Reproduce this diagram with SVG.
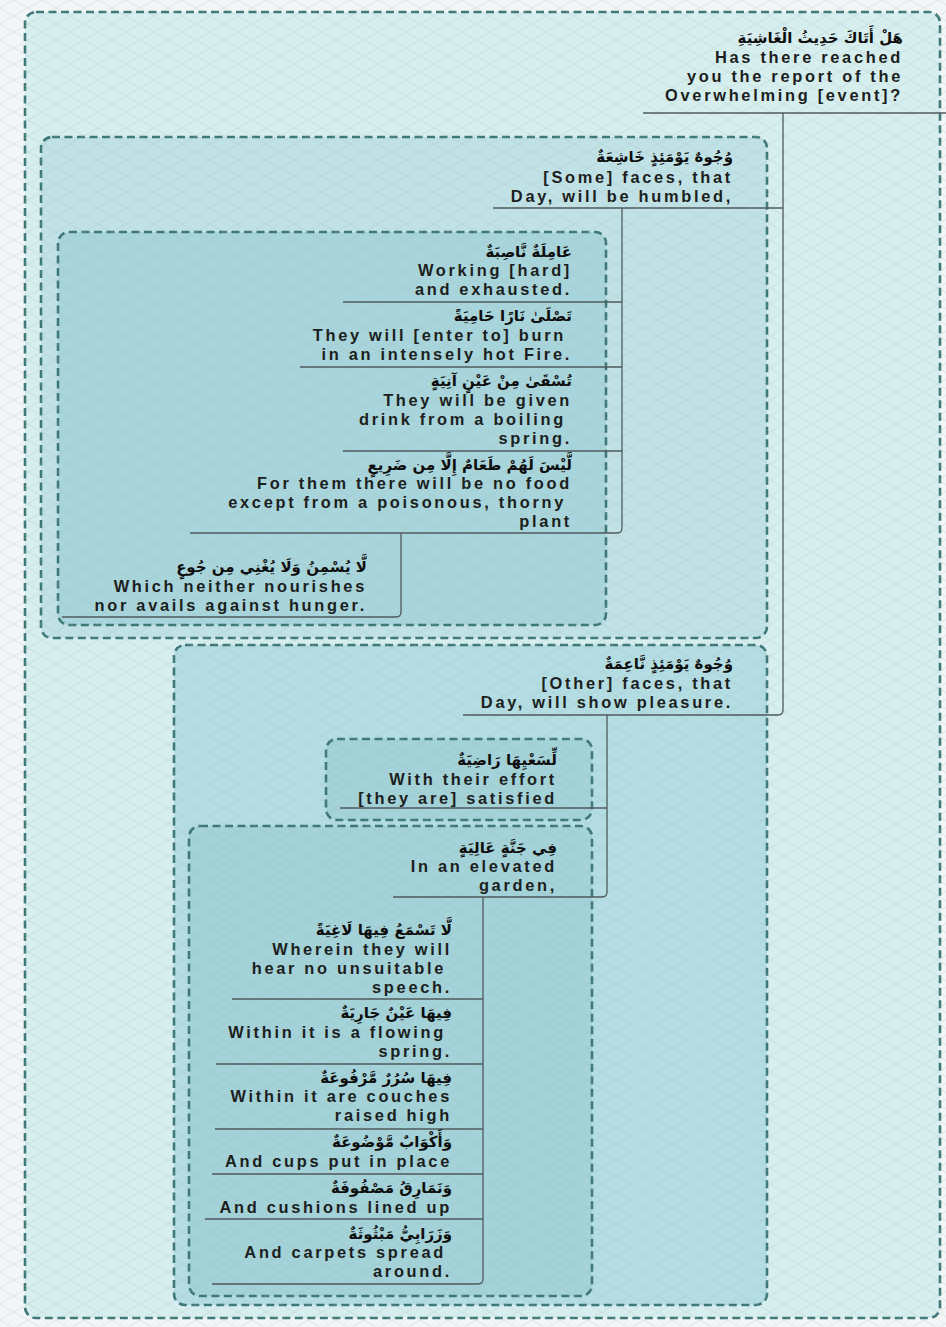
<svg xmlns="http://www.w3.org/2000/svg" width="946" height="1327" viewBox="0 0 946 1327">
<style>
.box{stroke:#3e7878;stroke-width:2.6;stroke-dasharray:8 4.5}
.t{font-family:"Liberation Sans",Arial,sans-serif;font-weight:700;font-size:16.4px;fill:#1c1f20;letter-spacing:2.7px;text-anchor:end}
.ar{font-family:"DejaVu Sans",sans-serif;font-weight:bold;font-size:15px;fill:#0e0e0e;text-anchor:end}
.c{fill:none;stroke:#4f5a5c;stroke-width:1.3}
</style>
<defs>
<pattern id="dia" width="28" height="16" patternUnits="userSpaceOnUse">
<path d="M0,8 L14,0 L28,8 L14,16 Z" fill="none" stroke="#9fb4b4" stroke-width="0.7"/>
</pattern>
</defs>
<rect width="946" height="1327" fill="#f3f6f6"/>
<g id="outer"><rect class="box" x="25" y="12" width="915" height="1306" rx="11" fill="#d7eeef"/></g>
<g id="boxA"><rect class="box" x="41" y="137" width="726" height="501" rx="11" fill="#c0e2e6"/></g>
<g id="boxB"><rect class="box" x="58" y="232" width="548" height="393" rx="11" fill="#a8d5db"/></g>
<g id="boxC"><rect class="box" x="174" y="645" width="593" height="660" rx="11" fill="#b3dde3"/></g>
<g id="boxD"><rect class="box" x="326" y="739" width="266" height="81" rx="11" fill="#a3d2d9"/></g>
<g id="boxE"><rect class="box" x="189" y="826" width="403" height="470" rx="11" fill="#a3d2d9"/></g>
<rect width="946" height="1327" fill="url(#dia)" opacity="0.35"/>

<g id="connectors">
<path class="c" d="M643,113 H946"/>
<path class="c" d="M783,113 V710 Q783,715 778,715 H463"/>
<path class="c" d="M493,208 H783"/>
<path class="c" d="M622,208 V528 Q622,533 617,533 H190"/>
<path class="c" d="M343,302 H622"/>
<path class="c" d="M300,367 H622"/>
<path class="c" d="M343,451 H622"/>
<path class="c" d="M401,533 V612 Q401,617 396,617 H62"/>
<path class="c" d="M607,715 V892 Q607,897 602,897 H393"/>
<path class="c" d="M340,808 H607"/>
<path class="c" d="M483,897 V1279 Q483,1284 478,1284 H212"/>
<path class="c" d="M232,999 H483"/>
<path class="c" d="M216,1064 H483"/>
<path class="c" d="M215,1129 H483"/>
<path class="c" d="M212,1174 H483"/>
<path class="c" d="M205,1219 H483"/>
</g>

<g id="n1">
<text class="ar" x="903" y="43">هَلْ أَتَاكَ حَدِيثُ الْغَاشِيَةِ</text>
<text class="t" x="903" y="63">Has there reached</text>
<text class="t" x="903" y="82">you the report of the</text>
<text class="t" x="903" y="101">Overwhelming [event]?</text>
</g>
<g id="n2">
<text class="ar" x="733" y="162">وُجُوهٌ يَوْمَئِذٍ خَاشِعَةٌ</text>
<text class="t" x="733" y="183">[Some] faces, that</text>
<text class="t" x="733" y="202">Day, will be humbled,</text>
</g>
<g id="n3">
<text class="ar" x="572" y="257">عَامِلَةٌ نَّاصِبَةٌ</text>
<text class="t" x="572" y="276">Working [hard]</text>
<text class="t" x="572" y="295">and exhausted.</text>
</g>
<g id="n4">
<text class="ar" x="572" y="321">تَصْلَىٰ نَارًا حَامِيَةً</text>
<text class="t" x="566" y="341">They will [enter to] burn</text>
<text class="t" x="572" y="360">in an intensely hot Fire.</text>
</g>
<g id="n5">
<text class="ar" x="572" y="386">تُسْقَىٰ مِنْ عَيْنٍ آنِيَةٍ</text>
<text class="t" x="572" y="406">They will be given</text>
<text class="t" x="566" y="425">drink from a boiling</text>
<text class="t" x="572" y="444">spring.</text>
</g>
<g id="n6">
<text class="ar" x="572" y="470">لَّيْسَ لَهُمْ طَعَامٌ إِلَّا مِن ضَرِيعٍ</text>
<text class="t" x="572" y="489">For them there will be no food</text>
<text class="t" x="566" y="508">except from a poisonous, thorny</text>
<text class="t" x="572" y="527">plant</text>
</g>
<g id="n7">
<text class="ar" x="367" y="572">لَّا يُسْمِنُ وَلَا يُغْنِي مِن جُوعٍ</text>
<text class="t" x="367" y="592">Which neither nourishes</text>
<text class="t" x="367" y="611">nor avails against hunger.</text>
</g>
<g id="n8">
<text class="ar" x="733" y="669">وُجُوهٌ يَوْمَئِذٍ نَّاعِمَةٌ</text>
<text class="t" x="733" y="689">[Other] faces, that</text>
<text class="t" x="733" y="708">Day, will show pleasure.</text>
</g>
<g id="n9">
<text class="ar" x="557" y="765">لِّسَعْيِهَا رَاضِيَةٌ</text>
<text class="t" x="557" y="785">With their effort</text>
<text class="t" x="557" y="804">[they are] satisfied</text>
</g>
<g id="n10">
<text class="ar" x="557" y="853">فِي جَنَّةٍ عَالِيَةٍ</text>
<text class="t" x="557" y="872">In an elevated</text>
<text class="t" x="557" y="891">garden,</text>
</g>
<g id="n11">
<text class="ar" x="452" y="935">لَّا تَسْمَعُ فِيهَا لَاغِيَةً</text>
<text class="t" x="452" y="955">Wherein they will</text>
<text class="t" x="446" y="974">hear no unsuitable</text>
<text class="t" x="452" y="993">speech.</text>
</g>
<g id="n12">
<text class="ar" x="452" y="1018">فِيهَا عَيْنٌ جَارِيَةٌ</text>
<text class="t" x="446" y="1038">Within it is a flowing</text>
<text class="t" x="452" y="1057">spring.</text>
</g>
<g id="n13">
<text class="ar" x="452" y="1083">فِيهَا سُرُرٌ مَّرْفُوعَةٌ</text>
<text class="t" x="452" y="1102">Within it are couches</text>
<text class="t" x="452" y="1121">raised high</text>
</g>
<g id="n14">
<text class="ar" x="452" y="1147">وَأَكْوَابٌ مَّوْضُوعَةٌ</text>
<text class="t" x="452" y="1167">And cups put in place</text>
</g>
<g id="n15">
<text class="ar" x="452" y="1193">وَنَمَارِقُ مَصْفُوفَةٌ</text>
<text class="t" x="452" y="1213">And cushions lined up</text>
</g>
<g id="n16">
<text class="ar" x="452" y="1239">وَزَرَابِيُّ مَبْثُوثَةٌ</text>
<text class="t" x="446" y="1258">And carpets spread</text>
<text class="t" x="452" y="1277">around.</text>
</g>
</svg>
